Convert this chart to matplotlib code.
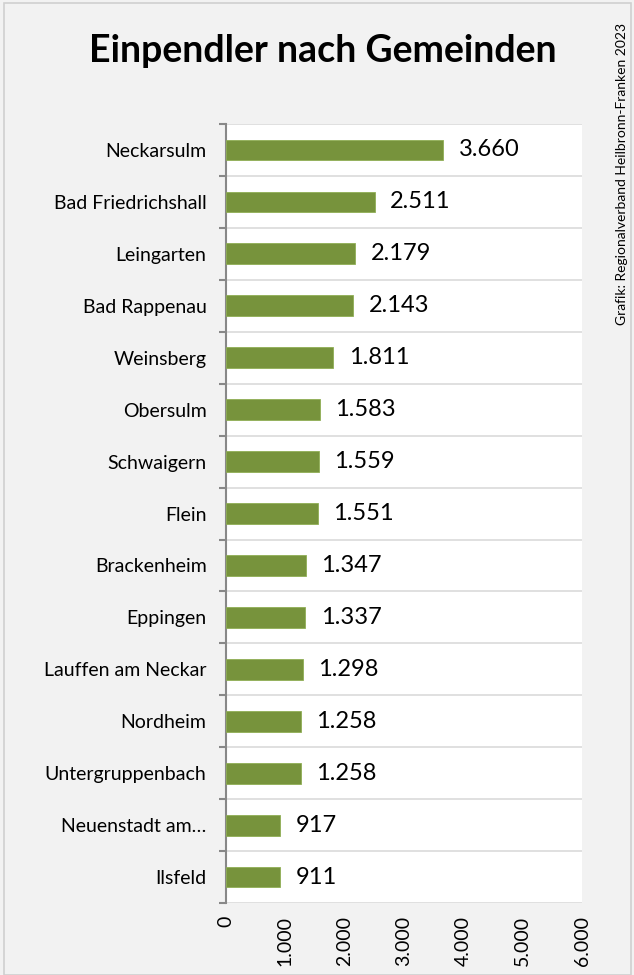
import numpy as np
import matplotlib.pyplot as plt
from matplotlib.ticker import FuncFormatter

gemeinden = ["Neckarsulm", "Bad Friedrichshall", "Leingarten", "Bad Rappenau",
             "Weinsberg", "Obersulm", "Schwaigern", "Flein", "Brackenheim",
             "Eppingen", "Lauffen am Neckar", "Nordheim", "Untergruppenbach",
             "Neuenstadt am…", "Ilsfeld"]
einpendler = [3660, 2511, 2179, 2143, 1811, 1583, 1559, 1551, 1347,
              1337, 1298, 1258, 1258, 917, 911]
xticks = [0, 1000, 2000, 3000, 4000, 5000, 6000]


def de_fmt(v, pos=None):
    return f"{int(v):,}".replace(",", ".")


plt.rcParams['font.family'] = ['Lato', 'DejaVu Sans']

fig = plt.figure(figsize=(6.34, 9.75), dpi=100, facecolor='#f2f2f2')
# thin frame around the chart
fig.patches.append(plt.Rectangle((0.006, 0.0), 0.99, 0.997, transform=fig.transFigure,
                                 fill=False, edgecolor='#d0d0d0', linewidth=1.2))

ax = fig.add_axes([0.3565, 0.0738, 0.5615, 0.799])
ax.set_facecolor('white')

y = np.arange(len(gemeinden))
ax.barh(y, einpendler, height=0.4, color='#77933c', edgecolor='#8fae55', linewidth=0.6, zorder=3)

for yi, v in zip(y, einpendler):
    ax.annotate(de_fmt(v), (v, yi), xytext=(11, 0), textcoords='offset points',
                ha='left', va='center', fontsize=17, color='black')

ax.set_ylim(len(gemeinden) - 0.5, -0.5)
ax.set_xlim(0, 6000)
ax.set_xticks(xticks)
ax.xaxis.set_major_formatter(FuncFormatter(de_fmt))
ax.tick_params(axis='x', length=0, labelsize=14, labelrotation=90, pad=9)

ax.set_yticks(y)
ax.set_yticklabels(gemeinden, fontsize=14)
ax.set_yticks(np.arange(len(gemeinden) + 1) - 0.5, minor=True)
ax.tick_params(axis='y', which='major', length=0, pad=14)
ax.tick_params(axis='y', which='minor', length=5, width=1.5, color='#888888')
ax.grid(axis='y', which='minor', color='#dddddd', linewidth=1.3, zorder=0)

for s in ['top', 'right', 'bottom']:
    ax.spines[s].set_visible(False)
ax.spines['left'].set_color('#888888')
ax.spines['left'].set_linewidth(1.5)

fig.text(0.509, 0.948, "Einpendler nach Gemeinden", ha='center', va='center',
         fontsize=27, fontweight='bold')
fig.text(0.981, 0.822, "Grafik: Regionalverband Heilbronn-Franken 2023", rotation=90,
         ha='center', va='center', fontsize=10)

fig.savefig("out.png", dpi=100, facecolor=fig.get_facecolor())
